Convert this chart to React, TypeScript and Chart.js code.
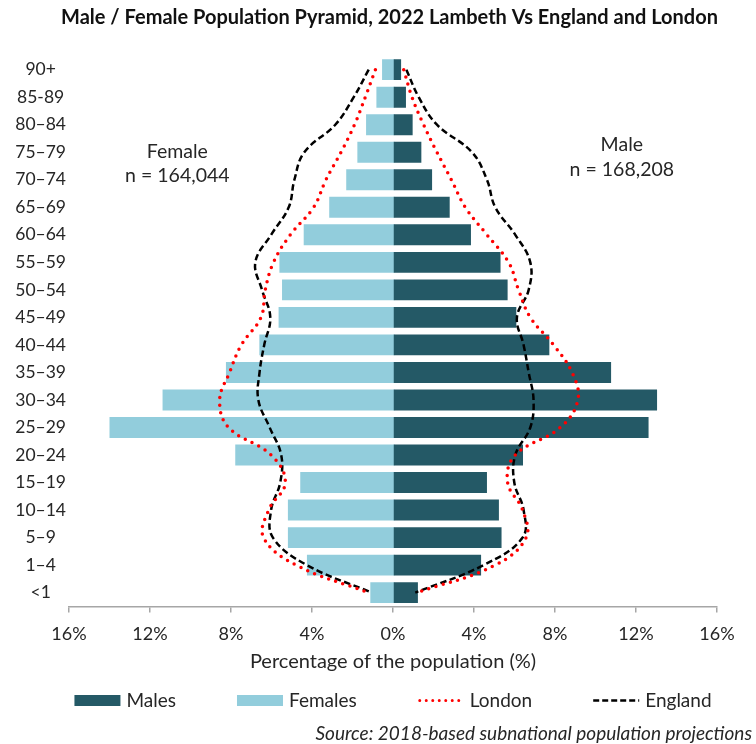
import React, { useEffect, useRef } from 'react';
import { Chart, registerables } from 'chart.js';

Chart.register(...registerables);

// ---------- Data ----------
const ageGroups = ['90+', '85-89', '80–84', '75–79', '70–74', '65–69', '60–64', '55–59', '50–54', '45–49', '40–44', '35–39', '30–34', '25–29', '20–24', '15–19', '10–14', '5–9', '1–4', '<1'];
const malesPct = [0.40, 0.64, 0.97, 1.40, 1.93, 2.80, 3.85, 5.31, 5.66, 6.09, 7.72, 10.77, 13.04, 12.62, 6.42, 4.64, 5.23, 5.36, 4.35, 1.23];
const femalesPct = [0.54, 0.82, 1.33, 1.76, 2.31, 3.15, 4.41, 5.61, 5.48, 5.65, 6.60, 8.25, 11.38, 14.00, 7.79, 4.58, 5.19, 5.19, 4.25, 1.12];
const londonMale = [0.53, 0.94, 1.51, 2.17, 2.88, 3.57, 4.64, 5.71, 6.20, 6.78, 7.93, 8.84, 9.13, 8.26, 6.04, 5.66, 6.40, 6.57, 5.05, 1.19];
const londonFemale = [0.87, 1.37, 1.90, 2.57, 3.31, 3.92, 5.07, 5.90, 6.31, 6.52, 7.49, 8.07, 8.56, 8.12, 6.02, 5.32, 6.14, 6.39, 4.78, 1.20];
const englandMale = [0.66, 1.27, 2.17, 3.90, 4.64, 5.05, 6.04, 6.78, 6.70, 6.12, 6.45, 6.70, 6.94, 6.78, 6.04, 5.99, 6.45, 6.40, 4.47, 1.10];
const englandFemale = [1.20, 1.94, 2.85, 4.38, 4.87, 5.15, 6.02, 6.80, 6.47, 6.06, 6.36, 6.59, 6.65, 6.09, 5.52, 5.57, 6.02, 5.93, 4.25, 1.04];

const xTickValues = [-16, -12, -8, -4, 0, 4, 8, 12, 16];

const titleText = 'Male / Female Population Pyramid, 2022 Lambeth Vs England and London';
const xAxisTitle = 'Percentage of the population (%)';
const sourceText = 'Source: 2018-based subnational population projections';
const femaleNote = ['Female', 'n = 164,044'];
const maleNote = ['Male', 'n = 168,208'];
const legendLabels = ['Males', 'Females', 'London', 'England'];

// ---------- Styles ----------
const FONT = 'Lato, "Open Sans", sans-serif';
const TEXT = '#262626';
const MALE_COLOR = '#245966';
const FEMALE_COLOR = '#92cddc';
const LONDON_COLOR = '#ff0000';
const ENGLAND_COLOR = '#000000';
const AXIS_COLOR = '#a6a6a6';

const overlayPlugin = {
  id: 'overlay',
  afterDraw(chart: any) {
    const { ctx, chartArea, scales } = chart;
    const x = scales.x;
    const y = scales.y;
    ctx.save();

    // title
    ctx.fillStyle = '#111111';
    ctx.textAlign = 'center';
    ctx.textBaseline = 'middle';
    ctx.font = `bold 20px ${FONT}`;
    ctx.fillText(titleText, 389.5, 17.5);

    // annotations positioned through the scales
    ctx.fillStyle = TEXT;
    ctx.font = `19.5px ${FONT}`;
    const fx = x.getPixelForValue(-10.65);
    ctx.fillText(femaleNote[0], fx, y.getPixelForValue(2.98));
    ctx.fillText(femaleNote[1], fx, y.getPixelForValue(3.86));
    const mx = x.getPixelForValue(11.3);
    ctx.fillText(maleNote[0], mx, y.getPixelForValue(2.73));
    ctx.fillText(maleNote[1], mx, y.getPixelForValue(3.63));

    // legend
    ctx.font = `19px ${FONT}`;
    ctx.textAlign = 'left';
    const boxW = 46;
    const gapBoxText = 6;
    const gapItems = 61;
    const widths = legendLabels.map((l) => boxW + gapBoxText + ctx.measureText(l).width);
    const total = widths.reduce((a, b) => a + b, 0) + gapItems * (legendLabels.length - 1);
    const cx = (chartArea.left + chartArea.right) / 2;
    const ly = chart.height - 43.5;
    let cur = cx - total / 2;
    legendLabels.forEach((label, i) => {
      if (i === 0 || i === 1) {
        ctx.fillStyle = i === 0 ? MALE_COLOR : FEMALE_COLOR;
        ctx.fillRect(cur, ly - 5.5, boxW, 11);
      } else if (i === 2) {
        ctx.save();
        ctx.strokeStyle = LONDON_COLOR;
        ctx.lineWidth = 3;
        ctx.lineCap = 'round';
        ctx.setLineDash([0, 6.5]);
        ctx.beginPath();
        ctx.moveTo(cur + 2, ly);
        ctx.lineTo(cur + boxW, ly);
        ctx.stroke();
        ctx.restore();
      } else {
        ctx.save();
        ctx.strokeStyle = ENGLAND_COLOR;
        ctx.lineWidth = 2.5;
        ctx.setLineDash([6, 3]);
        ctx.beginPath();
        ctx.moveTo(cur, ly);
        ctx.lineTo(cur + boxW, ly);
        ctx.stroke();
        ctx.restore();
      }
      ctx.fillStyle = TEXT;
      ctx.fillText(label, cur + boxW + gapBoxText, ly);
      cur += widths[i] + gapItems;
    });

    // source
    ctx.font = `italic 19px ${FONT}`;
    ctx.textAlign = 'right';
    ctx.fillStyle = TEXT;
    ctx.fillText(sourceText, chart.width - 4, chart.height - 10);
    ctx.restore();
  },
};

export default function App() {
  const canvasRef = useRef<HTMLCanvasElement | null>(null);

  useEffect(() => {
    if (!canvasRef.current) return;
    const lineCommon = { type: 'line', pointRadius: 0, tension: 0.4, fill: false, order: 0 };
    const barCommon = { type: 'bar', grouped: false, barPercentage: 0.76, categoryPercentage: 1, order: 1, borderWidth: 0, inflateAmount: 0 };
    const chart = new Chart(canvasRef.current, {
      type: 'bar',
      data: {
        labels: ageGroups,
        datasets: [
          {
            ...lineCommon,
            label: 'London',
            data: londonMale,
            borderColor: LONDON_COLOR,
            borderWidth: 3.5,
            borderDash: [0, 7.5],
            borderCapStyle: 'round',
          },
          {
            ...lineCommon,
            label: 'London',
            data: londonFemale.map((v) => -v),
            borderColor: LONDON_COLOR,
            borderWidth: 3.5,
            borderDash: [0, 7.5],
            borderCapStyle: 'round',
          },
          {
            ...lineCommon,
            label: 'England',
            data: englandMale,
            borderColor: ENGLAND_COLOR,
            borderWidth: 2.5,
            borderDash: [6.5, 3.5],
          },
          {
            ...lineCommon,
            label: 'England',
            data: englandFemale.map((v) => -v),
            borderColor: ENGLAND_COLOR,
            borderWidth: 2.5,
            borderDash: [6.5, 3.5],
          },
          {
            ...barCommon,
            label: 'Males',
            data: malesPct,
            backgroundColor: MALE_COLOR,
          },
          {
            ...barCommon,
            label: 'Females',
            data: femalesPct.map((v) => -v),
            backgroundColor: FEMALE_COLOR,
            base: 0.08,
          },
        ] as any,
      },
      options: {
        indexAxis: 'y',
        animation: false,
        responsive: true,
        maintainAspectRatio: false,
        layout: { padding: { left: 0, right: 39, top: 55.9, bottom: 70 } },
        plugins: {
          legend: { display: false },
          tooltip: { enabled: false },
          title: { display: false },
        },
        scales: {
          x: {
            type: 'linear',
            min: -16,
            max: 16,
            afterBuildTicks: (scale: any) => {
              scale.ticks = xTickValues.map((v) => ({ value: v }));
            },
            ticks: {
              color: TEXT,
              font: { family: FONT, size: 18 },
              padding: 10.5,
              callback: (v: any) => `${Math.abs(Number(v))}%`,
            },
            grid: {
              display: true,
              drawOnChartArea: false,
              drawTicks: true,
              tickLength: 6,
              color: AXIS_COLOR,
              lineWidth: 1.5,
            },
            border: { display: true, color: AXIS_COLOR, width: 1.5 },
            title: {
              display: true,
              text: xAxisTitle,
              color: TEXT,
              font: { family: FONT, size: 20 },
              padding: { top: -5, bottom: 0 },
            },
          },
          y: {
            type: 'category',
            offset: true,
            grid: { display: false, drawTicks: false },
            border: { display: false },
            afterFit: (scale: any) => {
              scale.width = 69;
            },
            ticks: {
              color: TEXT,
              font: { family: FONT, size: 17.5 },
              crossAlign: 'center',
              padding: 3,
              autoSkip: false,
            },
          },
        },
      } as any,
      plugins: [overlayPlugin],
    });
    return () => chart.destroy();
  }, []);

  return (
    <div style={{ position: 'absolute', left: 0, top: 0, width: 756, height: 744, background: '#ffffff' }}>
      <canvas ref={canvasRef} />
    </div>
  );
}
